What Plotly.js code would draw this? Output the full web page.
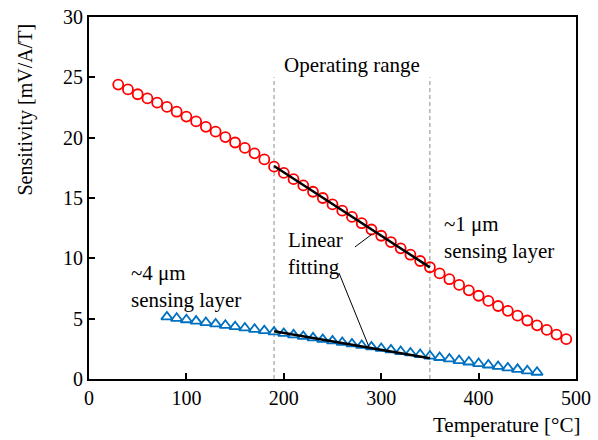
<!DOCTYPE html>
<html>
<head>
<meta charset="utf-8">
<script src="https://cdn.plot.ly/plotly-3.0.1.min.js"></script>
<style>html,body{margin:0;padding:0;background:#fff;}#chart{width:598px;height:440px;}</style>
</head>
<body>
<div id="chart"></div>
<script>
// Data
const tempThin = [30,40,50,60,70,80,90,100,110,120,130,140,150,160,170,180,190,200,210,220,230,240,250,260,270,280,290,300,310,320,330,340,350,360,370,380,390,400,410,420,430,440,450,460,470,480,490];
const sensThin = [24.4,24.0,23.6,23.25,22.9,22.55,22.15,21.75,21.35,20.9,20.5,20.05,19.6,19.15,18.7,18.2,17.6,17.08,16.56,16.04,15.52,15.0,14.47,13.95,13.43,12.91,12.39,11.87,11.35,10.83,10.3,9.78,9.26,8.75,8.27,7.8,7.35,6.9,6.47,6.05,5.65,5.25,4.85,4.45,4.07,3.68,3.3];
const tempThick = [80,90,100,110,120,130,140,150,160,170,180,190,200,210,220,230,240,250,260,270,280,290,300,310,320,330,340,350,360,370,380,390,400,410,420,430,440,450,460];
const sensThick = [5.15,5.03,4.91,4.8,4.68,4.57,4.45,4.34,4.23,4.12,4.01,3.9,3.78,3.66,3.53,3.41,3.28,3.16,3.03,2.91,2.78,2.66,2.53,2.41,2.28,2.16,2.03,1.9,1.78,1.66,1.53,1.41,1.28,1.16,1.04,0.92,0.8,0.68,0.56];
const fitThinX = [190, 350];
const fitThinY = [17.65, 9.25];
const fitThickX = [190, 350];
const fitThickY = [3.95, 1.72];
const rangeBounds = [190, 350];
const xTicks = [0,100,200,300,400,500];
const yTicks = [0,5,10,15,20,25,30];

const FONT = 'Liberation Serif, Times New Roman, serif';

const traces = [
  {x: tempThin, y: sensThin, mode: 'markers', type: 'scatter', name: '~1 μm',
   marker: {symbol: 'circle-open', size: 10, color: '#FF0000', line: {width: 1.8, color: '#FF0000'}}},
  {x: tempThick, y: sensThick, mode: 'markers', type: 'scatter', name: '~4 μm',
   marker: {symbol: 'triangle-up-open', size: 10, color: '#0070C0', line: {width: 1.8, color: '#0070C0'}}},
  {x: fitThinX, y: fitThinY, mode: 'lines', type: 'scatter', line: {color: '#000', width: 2.5}},
  {x: fitThickX, y: fitThickY, mode: 'lines', type: 'scatter', line: {color: '#000', width: 2.5}}
];

const shapes = rangeBounds.map(v => ({
  type: 'line', xref: 'x', yref: 'y', x0: v, x1: v, y0: 0, y1: 25,
  line: {color: '#8c8c8c', width: 1, dash: '4px,3px'}, layer: 'below'
}));
shapes.push({type: 'line', xref: 'x', yref: 'y', x0: 273, y0: 10.94, x1: 290.6, y1: 12.0, line: {color: '#000', width: 1}});
shapes.push({type: 'line', xref: 'x', yref: 'y', x0: 256.7, y0: 8.78, x1: 287.5, y1: 2.65, line: {color: '#000', width: 1}});

const annotations = [
  {text: 'Operating range', x: 270, y: 26.0, xref: 'x', yref: 'y', showarrow: false, xanchor: 'center', yanchor: 'middle', font: {size: 21}},
  {text: '~1 μm<br>sensing layer', x: 362, y: 11.7, xref: 'x', yref: 'y', showarrow: false, xanchor: 'left', yanchor: 'middle', align: 'left', font: {size: 21}},
  {text: '~4 μm<br>sensing layer', x: 41, y: 7.7, xref: 'x', yref: 'y', showarrow: false, xanchor: 'left', yanchor: 'middle', align: 'left', font: {size: 21}},
  {text: 'Linear<br>fitting', x: 202, y: 10.4, xref: 'x', yref: 'y', showarrow: false, xanchor: 'left', yanchor: 'middle', align: 'left', font: {size: 21}},
  {text: 'Sensitivity [mV/A/T]', xref: 'paper', yref: 'paper', x: -0.131, y: 0.745, showarrow: false, textangle: -90, xanchor: 'center', yanchor: 'middle', font: {size: 20}},
  {text: 'Temperature [°C]', xref: 'paper', yref: 'paper', x: 1.013, y: -0.128, showarrow: false, xanchor: 'right', yanchor: 'middle', font: {size: 21}}
];

const layout = {
  width: 598, height: 440,
  margin: {l: 89, r: 22, t: 17, b: 61},
  paper_bgcolor: '#fff', plot_bgcolor: '#fff',
  showlegend: false,
  font: {family: FONT, size: 20, color: '#000'},
  xaxis: {range: [0, 500], tickvals: xTicks, ticktext: xTicks.map(String), showgrid: false, zeroline: false,
          showline: true, linewidth: 2, linecolor: '#000', mirror: true, ticks: 'inside', ticklen: 6, tickwidth: 2, tickcolor: '#000',
          tickfont: {family: FONT, size: 20}},
  yaxis: {range: [0, 30], tickvals: yTicks, ticktext: yTicks.map(String), showgrid: false, zeroline: false,
          showline: true, linewidth: 2, linecolor: '#000', mirror: true, ticks: 'inside', ticklen: 6, tickwidth: 2, tickcolor: '#000',
          tickfont: {family: FONT, size: 20}},
  shapes: shapes,
  annotations: annotations
};

Plotly.newPlot('chart', traces, layout, {displayModeBar: false, staticPlot: true});
</script>
</body>
</html>
